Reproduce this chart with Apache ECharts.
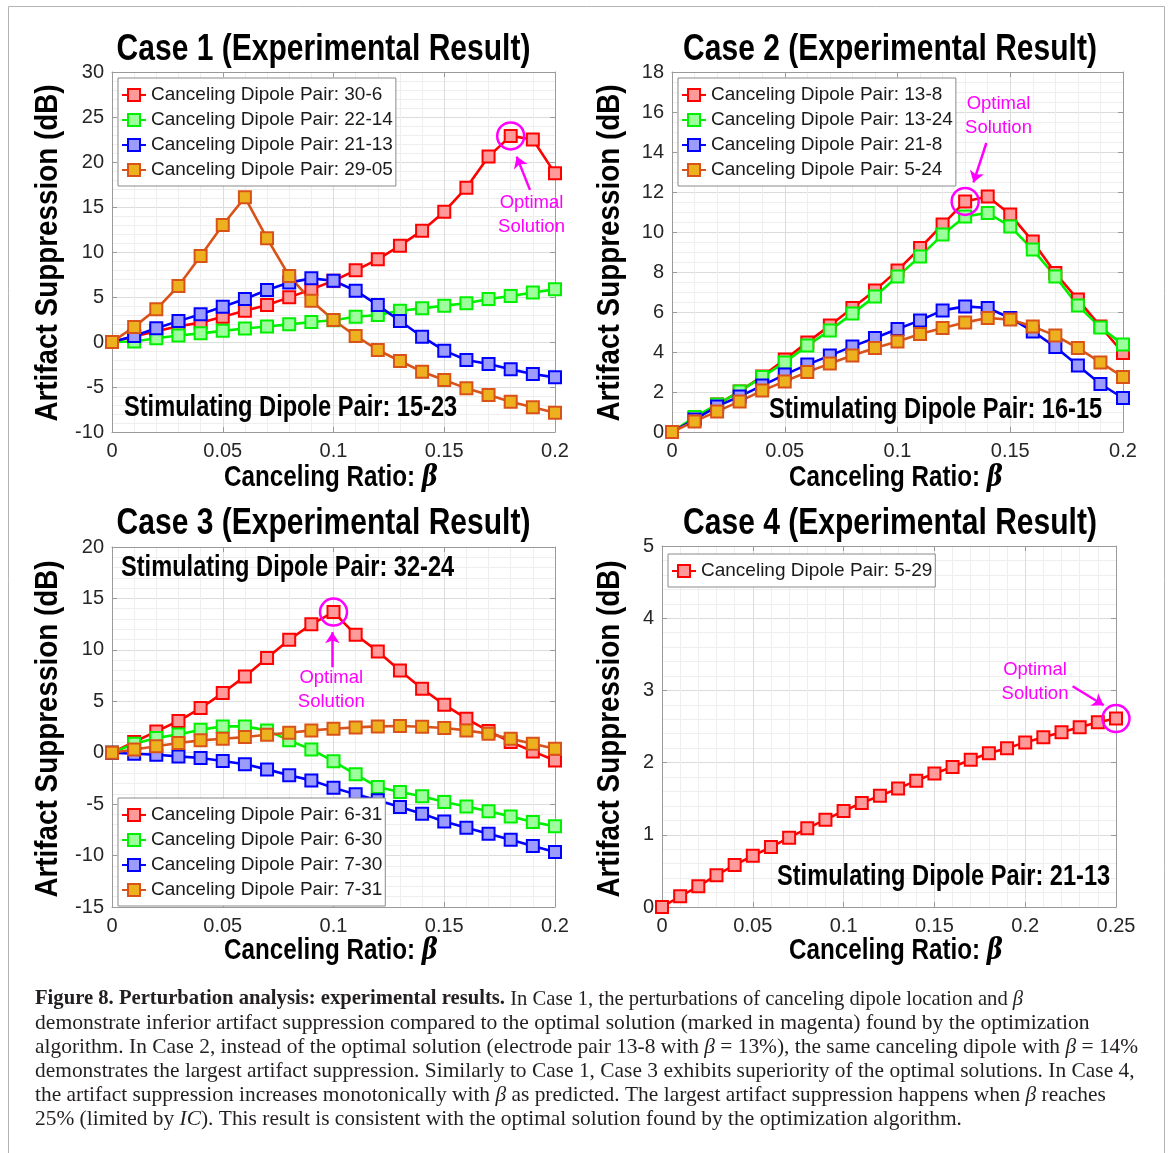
<!DOCTYPE html>
<html><head><meta charset="utf-8">
<script src="https://cdn.jsdelivr.net/npm/echarts@6/dist/echarts.min.js"></script>
<style>html,body{margin:0;padding:0;background:#fff}#c{width:1170px;height:1153px}</style>
</head><body><div id="c"></div>
<script>
// ---------- DATA ----------
const beta20 = [0,0.01,0.02,0.03,0.04,0.05,0.06,0.07,0.08,0.09,0.1,0.11,0.12,0.13,0.14,0.15,0.16,0.17,0.18,0.19,0.2];
const beta25 = [0,0.01,0.02,0.03,0.04,0.05,0.06,0.07,0.08,0.09,0.1,0.11,0.12,0.13,0.14,0.15,0.16,0.17,0.18,0.19,0.2,0.21,0.22,0.23,0.24,0.25];

// Case 1 (stimulating 15-23)
const case1_30_6  = [0,0.6,1.2,1.75,2.15,2.81,3.48,4.12,4.96,5.85,6.8,7.96,9.19,10.7,12.37,14.48,17.15,20.6,22.9,22.5,18.74];
const case1_22_14 = [0,0.06,0.41,0.72,0.96,1.24,1.5,1.72,1.96,2.22,2.42,2.8,3.0,3.48,3.74,4.04,4.3,4.78,5.1,5.5,5.85];
const case1_21_13 = [0,0.67,1.52,2.32,3.08,3.91,4.77,5.78,6.6,7.07,6.81,5.7,4.1,2.33,0.59,-0.96,-2.0,-2.44,-3.04,-3.56,-3.93];
const case1_29_05 = [0,1.68,3.63,6.22,9.56,13.0,16.07,11.52,7.33,4.59,2.44,0.67,-0.89,-2.11,-3.3,-4.22,-5.15,-5.89,-6.63,-7.26,-7.85];

// Case 2 (stimulating 16-15)
const case2_13_8  = [0,0.7,1.37,2.03,2.78,3.62,4.48,5.32,6.2,7.08,8.08,9.2,10.37,11.53,11.78,10.87,9.53,7.95,6.62,5.28,3.95];
const case2_13_24 = [0,0.75,1.37,2.03,2.75,3.48,4.32,5.08,5.92,6.78,7.77,8.78,9.87,10.78,10.95,10.28,9.12,7.78,6.32,5.23,4.37];
const case2_21_8  = [0,0.62,1.28,1.78,2.32,2.87,3.37,3.82,4.28,4.7,5.15,5.58,6.08,6.28,6.2,5.7,5.03,4.25,3.32,2.4,1.7];
const case2_5_24  = [0,0.53,1.03,1.53,2.07,2.53,3.0,3.42,3.82,4.2,4.53,4.9,5.2,5.48,5.7,5.62,5.28,4.82,4.2,3.48,2.75];

// Case 3 (stimulating 32-24)
const case3_6_31 = [0,1.04,2.07,3.08,4.34,5.8,7.42,9.2,10.98,12.48,13.67,11.47,9.85,8.0,6.22,4.67,3.31,2.1,1.04,0.13,-0.75];
const case3_6_30 = [0,0.87,1.43,1.78,2.24,2.56,2.56,2.17,1.2,0.32,-0.84,-2.1,-3.34,-3.82,-4.24,-4.8,-5.22,-5.7,-6.19,-6.74,-7.16];
const case3_7_30 = [0,-0.1,-0.2,-0.36,-0.52,-0.81,-1.13,-1.62,-2.2,-2.69,-3.4,-4.05,-4.63,-5.28,-5.93,-6.68,-7.29,-7.87,-8.46,-9.07,-9.66];
const case3_7_31 = [0,0.32,0.62,0.94,1.2,1.36,1.52,1.75,1.94,2.17,2.33,2.46,2.56,2.59,2.53,2.4,2.17,1.85,1.36,0.87,0.39];

// Case 4 (stimulating 21-13)
const case4_5_29 = [0,0.148,0.287,0.44,0.58,0.71,0.83,0.96,1.09,1.21,1.33,1.44,1.54,1.64,1.75,1.85,1.94,2.04,2.13,2.2,2.28,2.35,2.42,2.49,2.56,2.61];

const titles = ['Case 1 (Experimental Result)','Case 2 (Experimental Result)','Case 3 (Experimental Result)','Case 4 (Experimental Result)'];
const stimLabels = ['Stimulating Dipole Pair: 15-23','Stimulating Dipole Pair: 16-15','Stimulating Dipole Pair: 32-24','Stimulating Dipole Pair: 21-13'];
const yName = 'Artifact Suppression (dB)';
const xName = 'Canceling Ratio: ';
const optimalText = 'Optimal\nSolution';

// ---------- STYLE ----------
const SANS = "'Liberation Sans',Arial,Helvetica,sans-serif";
const SERIF = "'Liberation Serif','Times New Roman',serif";
const AX = '#9a9a9a', MAJ = '#dcdcdc', MIN = '#eeeeee', TXT = '#1a1a1a', MAG = '#ff00ff';
const COL = {
  red:{line:'#ff0000', fill:'#ff9a9a'},
  green:{line:'#00f000', fill:'#9cff9c'},
  blue:{line:'#0000ff', fill:'#9c9cff'},
  orange:{line:'#d95319', fill:'#edb120'}
};

const grids = [
  {left:112, top:72,  width:443, height:360},
  {left:672, top:72,  width:451, height:360},
  {left:112, top:547, width:443, height:360},
  {left:662, top:546, width:454, height:361}
];
const axDefs = [
  {xmax:0.2,  ymin:-10, ymax:30, yint:5, yminor:5},
  {xmax:0.2,  ymin:0,   ymax:18, yint:2, yminor:4},
  {xmax:0.2,  ymin:-15, ymax:20, yint:5, yminor:5},
  {xmax:0.25, ymin:0,   ymax:5,  yint:1, yminor:5}
];

const xAxes = [], yAxes = [];
axDefs.forEach((d,p)=>{
  const line = {show:true, onZero:false, lineStyle:{color:AX, width:1}};
  const tick = {show:true, inside:true, length:5, lineStyle:{color:AX}};
  xAxes.push({gridIndex:p, type:'value', position:'bottom', min:0, max:d.xmax, interval:0.05,
    axisLine:line, axisTick:tick,
    axisLabel:{fontSize:20, color:'#262626', margin:9, fontFamily:SANS, showMinLabel:true, showMaxLabel:true,
      formatter:v=>String(+v.toFixed(2))},
    splitLine:{show:true, lineStyle:{color:MAJ, width:1}},
    minorTick:{show:false, splitNumber:5},
    minorSplitLine:{show:true, lineStyle:{color:MIN, width:1}}});
  xAxes.push({gridIndex:p, type:'value', position:'top', min:0, max:d.xmax, interval:0.05,
    axisLine:line, axisTick:tick, axisLabel:{show:false}, splitLine:{show:false}});
  yAxes.push({gridIndex:p, type:'value', position:'left', min:d.ymin, max:d.ymax, interval:d.yint,
    axisLine:line, axisTick:tick,
    axisLabel:{fontSize:20, color:'#262626', margin:8, fontFamily:SANS, showMinLabel:true, showMaxLabel:true},
    splitLine:{show:true, lineStyle:{color:MAJ, width:1}},
    minorTick:{show:false, splitNumber:d.yminor},
    minorSplitLine:{show:true, lineStyle:{color:MIN, width:1}}});
  yAxes.push({gridIndex:p, type:'value', position:'right', min:d.ymin, max:d.ymax, interval:d.yint,
    axisLine:line, axisTick:tick, axisLabel:{show:false}, splitLine:{show:false}});
});

function mkSeries(name, xs, ys, col, p, extra){
  const s = {type:'line', name, xAxisIndex:p*2, yAxisIndex:p*2,
    data: xs.map((x,i)=>[x, ys[i]]),
    symbol:'rect', symbolSize:12, showAllSymbol:true, clip:false,
    lineStyle:{color:COL[col].line, width:2.6},
    itemStyle:{color:COL[col].fill, borderColor:COL[col].line, borderWidth:2},
    emphasis:{disabled:true}, animation:false};
  return Object.assign(s, extra||{});
}
function annot(circle, from, to, textAt){
  return {
    markPoint:{silent:true, animation:false, data:[
      {coord:circle, symbol:'circle', symbolSize:27, itemStyle:{color:'rgba(0,0,0,0)', borderColor:MAG, borderWidth:2.5}, label:{show:false}},
      {coord:textAt, symbol:'rect', symbolSize:1, itemStyle:{color:'rgba(0,0,0,0)'},
        label:{show:true, position:'inside', formatter:optimalText, color:MAG, fontSize:18.5, lineHeight:24, fontFamily:SANS}}
    ]},
    markLine:{silent:true, animation:false, symbol:['none','arrow'], symbolSize:11,
      lineStyle:{color:MAG, width:2.5, type:'solid'}, label:{show:false}, emphasis:{disabled:true},
      data:[[{coord:from},{coord:to}]]}
  };
}

const series = [
  mkSeries('Canceling Dipole Pair: 30-6', beta20, case1_30_6, 'red', 0, annot([beta20[18], case1_30_6[18]], [0.1887,16.9], [0.1827,20.6], [0.1894,14.1])),
  mkSeries('Canceling Dipole Pair: 22-14', beta20, case1_22_14, 'green', 0),
  mkSeries('Canceling Dipole Pair: 21-13', beta20, case1_21_13, 'blue', 0),
  mkSeries('Canceling Dipole Pair: 29-05', beta20, case1_29_05, 'orange', 0),

  mkSeries('Canceling Dipole Pair: 13-8', beta20, case2_13_8, 'red', 1, annot([beta20[13], case2_13_8[13]], [0.1394,14.45], [0.1337,12.48], [0.1448,15.78])),
  mkSeries('Canceling Dipole Pair: 13-24', beta20, case2_13_24, 'green', 1),
  mkSeries('Canceling Dipole Pair: 21-8', beta20, case2_21_8, 'blue', 1),
  mkSeries('Canceling Dipole Pair: 5-24', beta20, case2_5_24, 'orange', 1),

  mkSeries('Canceling Dipole Pair: 6-31', beta20, case3_6_31, 'red', 2, annot([beta20[10], case3_6_31[10]], [0.0995,8.3], [0.0995,11.72], [0.099,6.15])),
  mkSeries('Canceling Dipole Pair: 6-30', beta20, case3_6_30, 'green', 2),
  mkSeries('Canceling Dipole Pair: 7-30', beta20, case3_7_30, 'blue', 2),
  mkSeries('Canceling Dipole Pair: 7-31', beta20, case3_7_31, 'orange', 2),

  mkSeries('Canceling Dipole Pair: 5-29', beta25, case4_5_29, 'red', 3, annot([beta25[25], case4_5_29[25]], [0.2261,3.057], [0.2432,2.794], [0.2054,3.115]))
];

function mkLegend(names, left, top){
  return {data:names, left, top, orient:'vertical', itemWidth:24, itemHeight:15, itemGap:5,
    padding:[7,3,6,3], borderColor:'#8a8a8a', borderWidth:1, backgroundColor:'#fff', selectedMode:false,
    textStyle:{fontSize:19, lineHeight:20, color:TXT, fontFamily:SANS}, z:10};
}
const legends = [
  mkLegend(series.slice(0,4).map(s=>s.name), 118, 78),
  mkLegend(series.slice(4,8).map(s=>s.name), 678, 78),
  mkLegend(series.slice(8,12).map(s=>s.name), 118, 798),
  mkLegend(series.slice(12,13).map(s=>s.name), 668, 554)
];

// ---------- TEXT GRAPHICS ----------
const g = [];
g.push({type:'rect', shape:{x:8.5, y:6.5, width:1156, height:1170}, style:{fill:'none', stroke:'#b4b4b4', lineWidth:1}, silent:true, z:0});
const titlePos = [[323.5,50],[890,50],[323.5,524],[890,524]];
titles.forEach((t,i)=>g.push({type:'text', x:titlePos[i][0], y:titlePos[i][1], scaleX:0.834, z:20,
  style:{text:t, align:'center', verticalAlign:'middle', fill:'#000', fontSize:36, fontWeight:'bold', fontFamily:SANS}}));
const stimPos = [[124,408],[769,410],[121,568],[777,877]];
stimLabels.forEach((t,i)=>g.push({type:'text', x:stimPos[i][0], y:stimPos[i][1], scaleX:0.814, z:20,
  style:{text:t, align:'left', verticalAlign:'middle', fill:'#000', fontSize:29, fontWeight:'bold', fontFamily:SANS}}));
const yNamePos = [[48,253],[610,253],[48,729],[610,729]];
yNamePos.forEach(p=>g.push({type:'text', x:p[0], y:p[1], rotation:Math.PI/2, scaleX:0.87, z:20,
  style:{text:yName, align:'center', verticalAlign:'middle', fill:'#000', fontSize:32, fontWeight:'bold', fontFamily:SANS}}));
const xNamePos = [[331,478],[896,478],[331,951],[896,951]];
xNamePos.forEach(p=>g.push({type:'text', x:p[0], y:p[1], scaleX:0.835, z:20,
  style:{text:'{a|'+xName+'}{b|β}', align:'center', verticalAlign:'middle',
    rich:{a:{fill:'#000', fontSize:29, fontWeight:'bold', fontFamily:SANS},
          b:{fill:'#000', fontSize:29, fontWeight:'bold', fontStyle:'italic', fontFamily:"'DejaVu Serif',serif"}}}}));

// caption
const capRich = {
  b:{fill:'#231f20', fontSize:21, fontWeight:'bold', fontFamily:SERIF},
  n:{fill:'#231f20', fontSize:21, fontFamily:SERIF},
  i:{fill:'#231f20', fontSize:21, fontStyle:'italic', fontFamily:SERIF}
};
const capLines = [
  '{b|Figure 8. Perturbation analysis: experimental results.}{n| In Case 1, the perturbations of canceling dipole location and }{i|β}',
  '{n|demonstrate inferior artifact suppression compared to the optimal solution (marked in magenta) found by the optimization}',
  '{n|algorithm. In Case 2, instead of the optimal solution (electrode pair 13-8 with }{i|β}{n| = 13%), the same canceling dipole with }{i|β}{n| = 14%}',
  '{n|demonstrates the largest artifact suppression. Similarly to Case 1, Case 3 exhibits superiority of the optimal solutions. In Case 4,}',
  '{n|the artifact suppression increases monotonically with }{i|β}{n| as predicted. The largest artifact suppression happens when }{i|β}{n| reaches}',
  '{n|25% (limited by }{i|IC}{n|). This result is consistent with the optimal solution found by the optimization algorithm.}'
];
const capScale = [0.983, 1.028, 1.02, 1.02, 1.02, 1.02];
capLines.forEach((t,i)=>g.push({type:'text', x:35, y:999+24*i, scaleX:capScale[i], z:20,
  style:{text:t, align:'left', verticalAlign:'middle', rich:capRich}}));

const chart = echarts.init(document.getElementById('c'), null, {renderer:'canvas', width:1170, height:1153});
chart.setOption({
  animation:false,
  backgroundColor:'#fff',
  grid:grids,
  xAxis:xAxes,
  yAxis:yAxes,
  legend:legends,
  series:series,
  graphic:g
});
</script></body></html>
